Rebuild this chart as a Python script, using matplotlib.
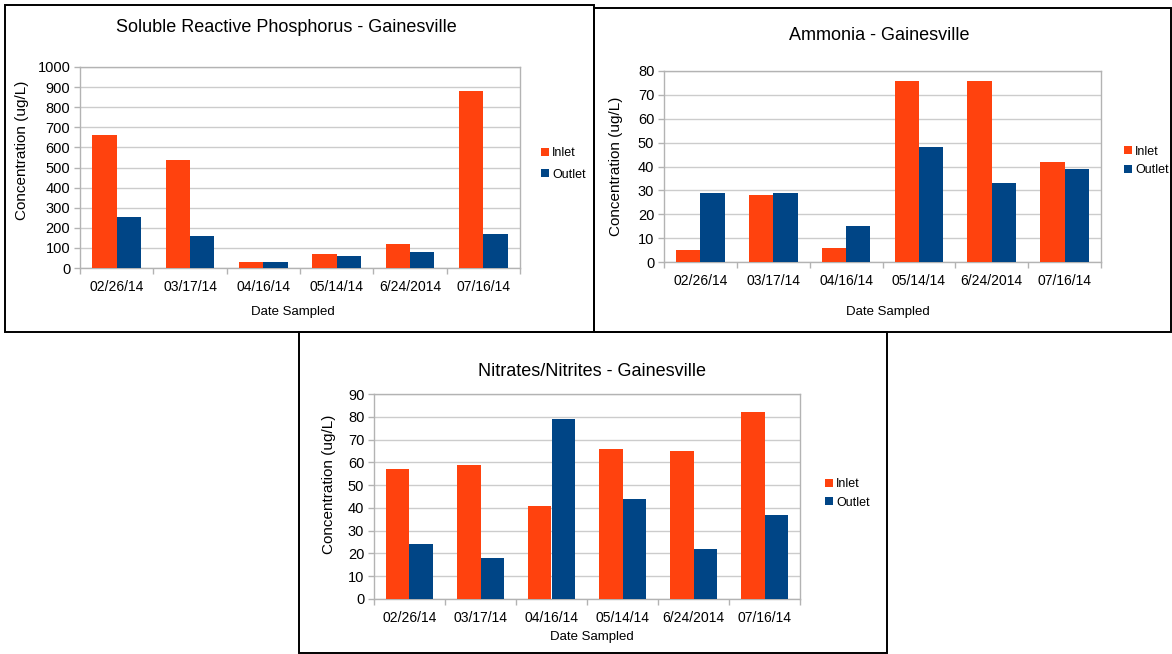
import matplotlib
matplotlib.use("Agg")
import matplotlib.pyplot as plt
import numpy as np
from matplotlib.patches import Rectangle, Patch

plt.rcParams['font.family'] = ['Liberation Sans', 'DejaVu Sans']

W, H = 1172, 654

dates = ["02/26/14", "03/17/14", "04/16/14", "05/14/14", "6/24/2014", "07/16/14"]
series_names = ["Inlet", "Outlet"]

srp_inlet = [660, 537, 28, 70, 118, 882]
srp_outlet = [255, 157, 28, 60, 78, 168]

nh3_inlet = [5, 28, 6, 76, 76, 42]
nh3_outlet = [29, 29, 15, 48, 33, 39]

no3_inlet = [57, 59, 41, 66, 65, 82]
no3_outlet = [24, 18, 79, 44, 22, 37]

titles = ["Soluble Reactive Phosphorus - Gainesville",
          "Ammonia - Gainesville",
          "Nitrates/Nitrites - Gainesville"]
ylabel = "Concentration (ug/L)"
xlabel = "Date Sampled"

inlet_color = "#ff420e"
outlet_color = "#004586"
grid_color = "#cccccc"

fig = plt.figure(figsize=(W / 100, H / 100), dpi=100)


def fx(x):
    return x / W


def fy(y):
    return 1 - y / H


def add_box(x0, y0, x1, y1):
    fig.patches.append(Rectangle((fx(x0), fy(y1)), fx(x1) - fx(x0), fy(y0) - fy(y1),
                                 transform=fig.transFigure, fill=False,
                                 edgecolor="black", linewidth=1.4, zorder=0))


def panel(axbox, inlet, outlet, ymax, ystep, title, title_xy, ylab_xy, xlab_xy,
          leg_xy, leg_spacing):
    x0, y0, x1, y1 = axbox
    ax = fig.add_axes([fx(x0), fy(y1), fx(x1) - fx(x0), fy(y0) - fy(y1)])
    x = np.arange(len(dates))
    bw = 1 / 3
    ax.bar(x - bw / 2, inlet, bw, color=inlet_color, label=series_names[0], zorder=3)
    ax.bar(x + bw / 2, outlet, bw, color=outlet_color, label=series_names[1], zorder=3)
    ax.set_xlim(-0.5, len(dates) - 0.5)
    ax.set_ylim(0, ymax)
    ax.set_yticks(np.arange(0, ymax + 1, ystep))
    ax.set_xticks(x)
    ax.set_xticklabels(dates, fontsize=10)
    ax.set_xticks(np.arange(-0.5, len(dates), 1), minor=True)
    ax.tick_params(axis='x', which='major', length=0, pad=8.5)
    ax.tick_params(axis='x', which='minor', length=4, color="#b3b3b3", width=1)
    ax.tick_params(axis='y', which='major', length=4, color="#b3b3b3", width=1,
                   labelsize=10.5, pad=3)
    ax.yaxis.grid(True, color=grid_color, linewidth=1, zorder=0)
    ax.set_axisbelow(True)
    for s in ax.spines.values():
        s.set_color("#b3b3b3")
        s.set_linewidth(1)
    fig.text(fx(title_xy[0]), fy(title_xy[1]), title, fontsize=13,
             ha='center', va='center')
    fig.text(fx(ylab_xy[0]), fy(ylab_xy[1]), ylabel, fontsize=11, rotation=90,
             ha='center', va='center')
    fig.text(fx(xlab_xy[0]), fy(xlab_xy[1]), xlabel, fontsize=9.5,
             ha='center', va='center')
    handles = [Patch(facecolor=inlet_color), Patch(facecolor=outlet_color)]
    ax.legend(handles, series_names, loc='center left',
              bbox_to_anchor=(fx(leg_xy[0]), fy(leg_xy[1])),
              bbox_transform=fig.transFigure, frameon=False, fontsize=9,
              handlelength=0.6, handleheight=0.6, handletextpad=0.3,
              labelspacing=leg_spacing, borderpad=0, borderaxespad=0)
    return ax


# panel borders
add_box(5, 5, 594, 332)
add_box(594, 8, 1171, 332)
add_box(299, 332, 887, 653)

panel((80, 67, 520, 268), srp_inlet, srp_outlet, 1000, 100, titles[0],
      (286, 27), (22, 150), (293, 312), (541, 164), 0.75)
panel((664, 71, 1101, 262), nh3_inlet, nh3_outlet, 80, 10, titles[1],
      (879, 35), (616, 166), (888, 312), (1124, 161), 0.55)
panel((374, 394, 800, 599), no3_inlet, no3_outlet, 90, 10, titles[2],
      (592, 372), (329, 484), (592, 637), (825, 493.5), 0.5)

fig.savefig("out.png", dpi=100)
